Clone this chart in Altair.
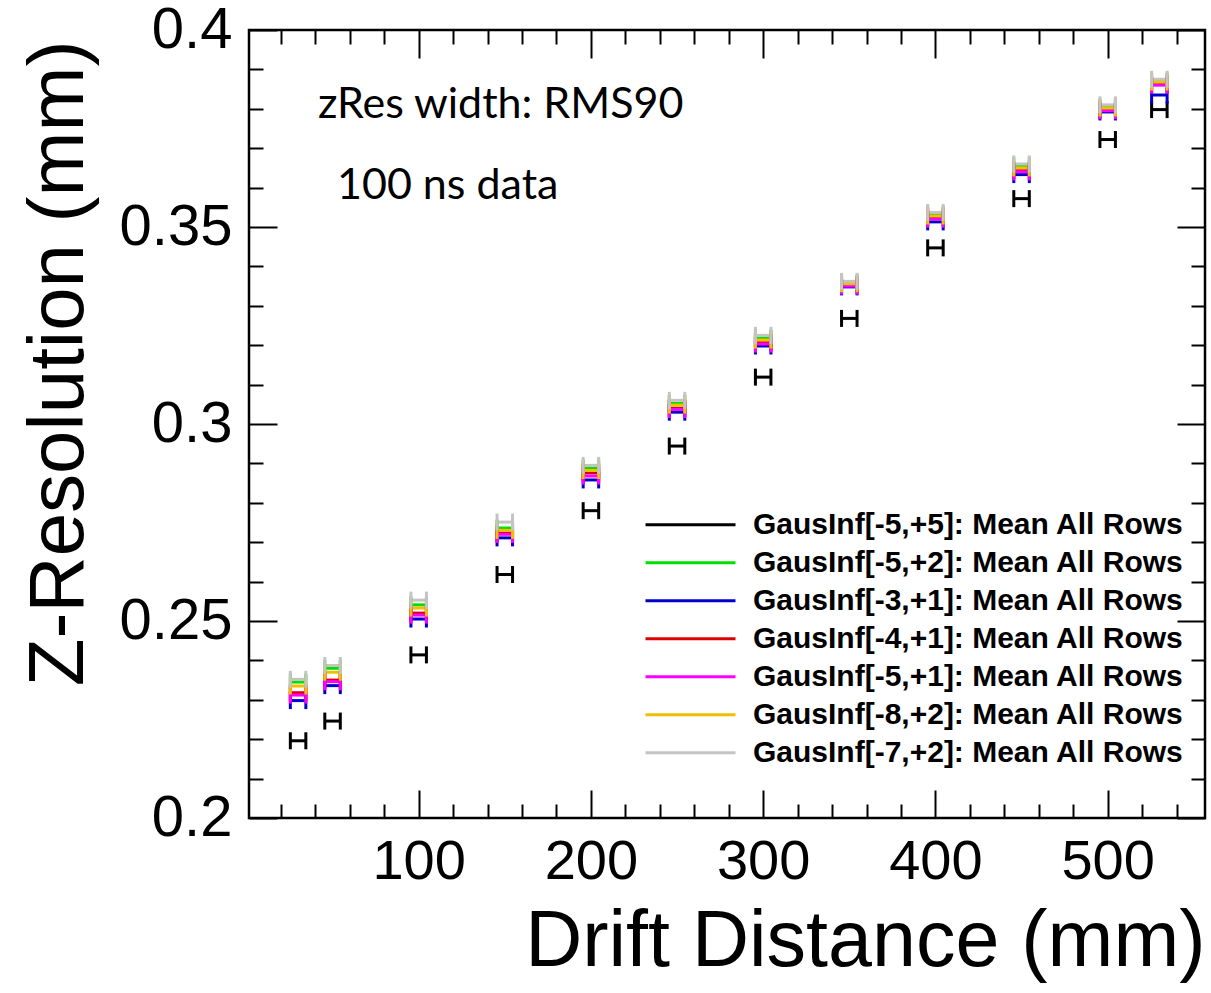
import altair as alt
import pandas as pd

# ---------------- data ----------------
drift_mm = [30, 50, 100, 150, 200, 250, 300, 350, 400, 450, 500, 530]
x_err_mm = [4.5, 4.5, 4.5, 4.5, 4.5, 4.5, 4.5, 4.5, 4.5, 4.5, 4.5, 4.5]

series_labels = [
    "GausInf[-5,+5]: Mean All Rows",
    "GausInf[-5,+2]: Mean All Rows",
    "GausInf[-3,+1]: Mean All Rows",
    "GausInf[-4,+1]: Mean All Rows",
    "GausInf[-5,+1]: Mean All Rows",
    "GausInf[-8,+2]: Mean All Rows",
    "GausInf[-7,+2]: Mean All Rows",
]
zres_m5_p5 = [0.2196, 0.2246, 0.2414, 0.2618, 0.2780, 0.2944, 0.3119, 0.3268, 0.3447, 0.3572, 0.3722, 0.3798]
zres_m5_p2 = [0.2345, 0.2380, 0.2541, 0.2736, 0.2888, 0.3052, 0.3218, 0.3358, 0.3532, 0.3655, 0.3805, 0.3870]
zres_m3_p1 = [0.2298, 0.2336, 0.2505, 0.2711, 0.2858, 0.3030, 0.3198, 0.3348, 0.3513, 0.3633, 0.3792, 0.3835]
zres_m4_p1 = [0.2318, 0.2350, 0.2520, 0.2723, 0.2876, 0.3040, 0.3208, 0.3353, 0.3525, 0.3643, 0.3797, 0.3862]
zres_m5_p1 = [0.2312, 0.2346, 0.2515, 0.2720, 0.2868, 0.3037, 0.3203, 0.3350, 0.3520, 0.3640, 0.3795, 0.3860]
zres_m8_p2 = [0.2335, 0.2370, 0.2533, 0.2730, 0.2882, 0.3048, 0.3213, 0.3356, 0.3528, 0.3650, 0.3802, 0.3868]
zres_m7_p2 = [0.2352, 0.2387, 0.2553, 0.2751, 0.2895, 0.3060, 0.3225, 0.3362, 0.3537, 0.3660, 0.3810, 0.3875]
series_values = [zres_m5_p5, zres_m5_p2, zres_m3_p1, zres_m4_p1, zres_m5_p1, zres_m8_p2, zres_m7_p2]
series_colors = ["#000000", "#00e000", "#0000cc", "#dd0000", "#ff00ff", "#f0c000", "#c4c4c4"]

x_major = [100, 200, 300, 400, 500]
x_minor = [v for v in range(20, 560, 20) if v % 100 != 0]
y_major = [0.2, 0.25, 0.3, 0.35, 0.4]
y_minor = [round(0.2 + 0.01 * i, 2) for i in range(1, 20) if i % 5 != 0]

notes_text = ["zRes width: RMS90", "100 ns data"]
notes_x = [41.6, 52.6]
notes_y = [0.3810, 0.3604]

# ---------------- tables ----------------
rows = []
for name, vals in zip(series_labels, series_values):
    for d, e, v in zip(drift_mm, x_err_mm, vals):
        rows.append({"series": name, "drift": d, "lo": d - e, "hi": d + e, "zres": v})
df = pd.DataFrame(rows)
notes = pd.DataFrame({"text": notes_text, "nx": notes_x, "ny": notes_y})

FONT = "Liberation Sans"
xs = alt.Scale(domain=[1.5, 556.5], nice=False, zero=False)
ys = alt.Scale(domain=[0.2, 0.4], nice=False, zero=False)
cs = alt.Scale(domain=series_labels, range=series_colors)


def axis(**kw):
    base = dict(domain=False, grid=False, tickColor="black", tickWidth=2,
                labelColor="black", titleColor="black", labelFont=FONT,
                titleFont=FONT, labelOverlap=False, labelFlush=False)
    base.update(kw)
    return alt.Axis(**base)


x_bottom_major = axis(orient="bottom", values=x_major, tickSize=28, offset=-28,
                      labelFontSize=56, labelPadding=16, format="d",
                      title="Drift Distance (mm)", titleFontSize=79,
                      titleFontWeight="normal", titleAlign="right",
                      titleBaseline="alphabetic", titleX=956, titleY=175)
x_bottom_minor = axis(orient="bottom", values=x_minor, tickSize=14, offset=-14,
                      labels=False, title=None)
x_top_major = axis(orient="top", values=x_major, tickSize=28, offset=-28,
                   labels=False, title=None)
x_top_minor = axis(orient="top", values=x_minor, tickSize=14, offset=-14,
                   labels=False, title=None)

y_left_major = axis(orient="left", values=y_major, tickSize=28, offset=-28,
                    labelFontSize=58, labelPadding=17, format=".2~f",
                    title="Z-Resolution (mm)", titleFontSize=78,
                    titleFontWeight="normal", titleAngle=270, titleAlign="right",
                    titleBaseline="alphabetic", titleX=-195, titleY=10)
y_left_minor = axis(orient="left", values=y_minor, tickSize=14, offset=-14,
                    labels=False, title=None)
y_right_major = axis(orient="right", values=y_major, tickSize=28, offset=-28,
                     labels=False, title=None)
y_right_minor = axis(orient="right", values=y_minor, tickSize=14, offset=-14,
                     labels=False, title=None)

legend = alt.Legend(orient="none", legendX=395, legendY=476, title=None,
                    symbolType="stroke", symbolSize=8100, symbolStrokeWidth=3,
                    symbolOpacity=1,
                    labelFont=FONT, labelFontSize=30, labelFontWeight="bold",
                    labelColor="black", labelOffset=16, labelLimit=0,
                    clipHeight=37.5, rowPadding=0, padding=0)

color = alt.Color("series:N", scale=cs, legend=legend)

bars = alt.Chart(df).mark_rule(strokeWidth=3, opacity=1).encode(
    x=alt.X("lo:Q", scale=xs, axis=x_bottom_major),
    x2="hi:Q",
    y=alt.Y("zres:Q", scale=ys, axis=y_left_major),
    color=color,
)
caps_lo = alt.Chart(df).mark_tick(orient="vertical", size=17, thickness=3, opacity=1).encode(
    x=alt.X("lo:Q", scale=xs, axis=x_bottom_minor),
    y=alt.Y("zres:Q", scale=ys, axis=y_left_minor),
    color=color,
)
caps_hi = alt.Chart(df).mark_tick(orient="vertical", size=17, thickness=3, opacity=1).encode(
    x=alt.X("hi:Q", scale=xs, axis=x_top_major),
    y=alt.Y("zres:Q", scale=ys, axis=y_right_major),
    color=color,
)
text = alt.Chart(notes).mark_text(align="left", baseline="middle", font="Lato",
                                  fontSize=43, color="black").encode(
    x=alt.X("nx:Q", scale=xs, axis=x_top_minor),
    y=alt.Y("ny:Q", scale=ys, axis=y_right_minor),
    text="text:N",
)

chart = alt.layer(bars, caps_lo, caps_hi, text).resolve_axis(
    x="independent", y="independent"
).properties(
    width=956, height=788,
    padding={"left": 249, "top": 30, "right": 6, "bottom": 175},
    autosize=alt.AutoSizeParams(type="none"),
    background="white",
).configure_view(stroke="black", strokeWidth=2.5)

chart.save("out.html", embed_options={"renderer": "svg", "actions": False})
